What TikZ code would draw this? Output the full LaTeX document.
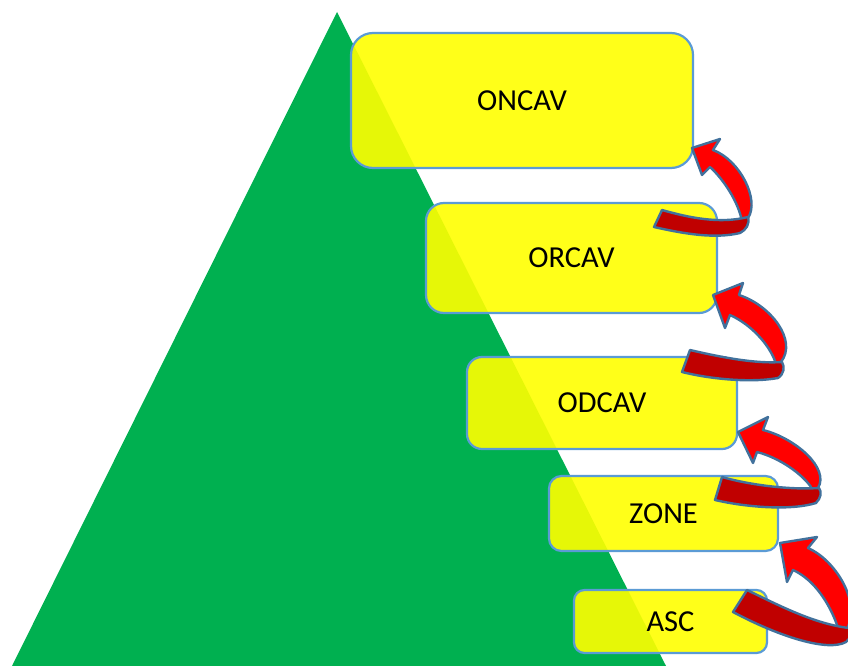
\documentclass[tikz,border=0pt]{standalone}
\usepackage{fontspec}
\setmainfont{Carlito}
\definecolor{triGreen}{HTML}{00B050}
\definecolor{boxBlue}{HTML}{5B9BD5}
\definecolor{arrBlue}{HTML}{41719C}
\definecolor{arrRed}{HTML}{FF0000}
\definecolor{arrDark}{HTML}{C00000}
\definecolor{boxYellow}{HTML}{FFFF00}
\begin{document}
\begin{tikzpicture}[x=1pt,y=-1pt,
  box/.style={draw=boxBlue, line width=2.2pt, fill=boxYellow, fill opacity=0.9,
    text opacity=1, text=black, font=\fontsize{30.5}{36}\selectfont, inner sep=0pt},
  arrowhead/.style={draw=arrBlue, line width=2.4pt, line join=round, fill=arrRed},
  arrowtail/.style={draw=arrBlue, line width=2.4pt, line join=round, fill=arrDark}]
\useasboundingbox (0,0) rectangle (848,666);
\fill[triGreen] (337,12) -- (12,666) -- (666,666) -- cycle;

\node[box, minimum width=342pt, minimum height=135pt, rounded corners=22pt] (oncav) at (522,100.5) {ONCAV};
\node[box, minimum width=291pt, minimum height=110pt, rounded corners=18pt] (orcav) at (571.5,258) {ORCAV};
\node[box, minimum width=270pt, minimum height=92pt, rounded corners=15pt] (odcav) at (602,403) {ODCAV};
\node[box, minimum width=229pt, minimum height=75pt, rounded corners=12.5pt] (zone) at (663.5,513.5) {ZONE};
\node[box, minimum width=193pt, minimum height=63pt, rounded corners=10.5pt] (asc) at (670.5,621.5) {ASC};

% arrow 1 (ORCAV -> ONCAV)
\filldraw[arrowhead] (692,148) -- (720,139) -- (713,150)
  .. controls (740,160) and (760,200) .. (748,218) -- (746,226) -- (740,226) -- (741,217)
  .. controls (736,198) and (722,178) .. (710,167) -- (702,175) -- cycle;
\filldraw[arrowtail] (662,210) .. controls (690,218) and (720,224) .. (748,217)
  .. controls (750,224) and (746,230) .. (740,233)
  .. controls (715,239) and (685,234) .. (654,227) -- cycle;

% arrow 2 (ODCAV -> ORCAV)
\filldraw[arrowhead] (713,295) -- (743,283) -- (739,295)
  .. controls (770,305) and (798,340) .. (781,362) -- (779,370) -- (768,370) -- (775,361)
  .. controls (769,345) and (752,325) .. (730,315) -- (725,328) -- cycle;
\filldraw[arrowtail] (690,350) .. controls (720,357) and (755,364) .. (782,362)
  .. controls (785,367) and (784,374) .. (778,378)
  .. controls (750,383) and (710,379) .. (682,372) -- cycle;

% arrow 3 (ZONE -> ODCAV)
\filldraw[arrowhead] (738,432) -- (768,417) -- (763,430)
  .. controls (795,438) and (830,468) .. (818,488) -- (816,496) -- (806,496) -- (811,487)
  .. controls (802,474) and (780,458) .. (757,452) -- (753,463) -- cycle;
\filldraw[arrowtail] (722,477) .. controls (750,485) and (790,490) .. (819,488)
  .. controls (822,492) and (821,498) .. (816,503)
  .. controls (790,511) and (745,507) .. (715,500) -- cycle;

% arrow 4 (ASC -> ZONE)
\filldraw[arrowhead] (780,543) -- (817,537) -- (808,548)
  .. controls (835,560) and (860,600) .. (848,627) -- (846,635) -- (832,634) -- (837,625)
  .. controls (830,605) and (815,580) .. (793,570) -- (787,582) -- cycle;
\filldraw[arrowtail] (747,590) .. controls (780,606) and (815,624) .. (849,628)
  .. controls (853,632) and (851,638) .. (846,642)
  .. controls (828,652) and (780,637) .. (733,612) -- cycle;
\end{tikzpicture}
\end{document}
